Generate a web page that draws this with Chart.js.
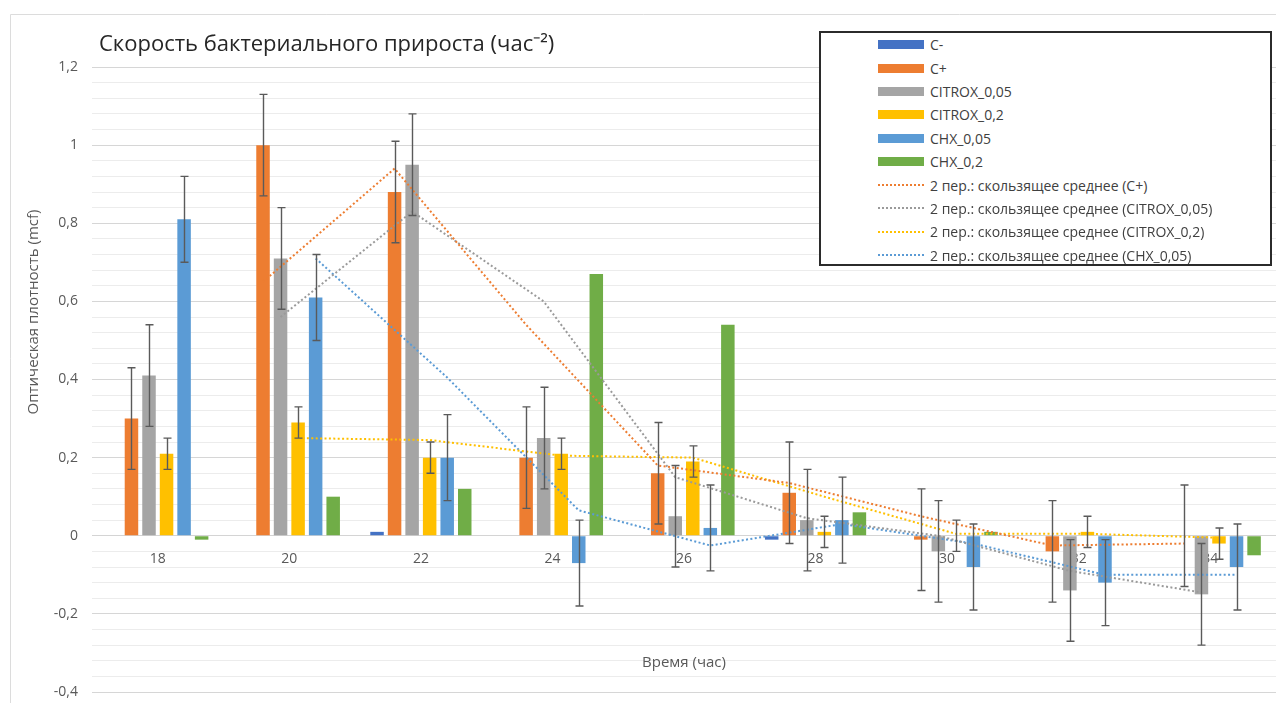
<!DOCTYPE html>
<html lang="ru">
<head>
<meta charset="utf-8">
<title>Скорость бактериального прироста</title>
<script src="https://cdn.jsdelivr.net/npm/chart.js@4.4.1/dist/chart.umd.min.js"></script>
<style>
  html, body { margin: 0; padding: 0; background: #fff; }
  #wrap { position: relative; width: 1276px; height: 703px; overflow: hidden; }
  #chart { position: absolute; left: 0; top: 0; }
  #legend {
    position: absolute; left: 819px; top: 31px; width: 449px; height: 231px;
    border: 2px solid #2b2b2b; background: #fff;
    font-family: 'Open Sans', sans-serif; font-size: 14px; color: #404040;
  }
  #legend .row { position: absolute; left: 57px; height: 23.4px; display: flex; align-items: center; white-space: nowrap; }
  #legend .sw { width: 46px; margin-right: 6px; }
  #legend .sw.bar { height: 9px; }
  #legend .sw.dot { height: 0; border-top-width: 2px; border-top-style: dotted; }
</style>
</head>
<body>
<div id="wrap">
  <canvas id="chart" width="1276" height="703"></canvas>
  <div id="legend"></div>
</div>
<script>
// Measurement times (hours)
const categories = ['18', '20', '22', '24', '26', '28', '30', '32', '34'];

// Growth rate per group
const cMinus    = [0, 0, 0.01, 0, 0, -0.01, 0, 0, 0];
const cPlus     = [0.30, 1.00, 0.88, 0.20, 0.16, 0.11, -0.01, -0.04, 0.00];
const citrox005 = [0.41, 0.71, 0.95, 0.25, 0.05, 0.04, -0.04, -0.14, -0.15];
const citrox02  = [0.21, 0.29, 0.20, 0.21, 0.19, 0.01, 0.00, 0.01, -0.02];
const chx005    = [0.81, 0.61, 0.20, -0.07, 0.02, 0.04, -0.08, -0.12, -0.08];
const chx02     = [-0.01, 0.10, 0.12, 0.67, 0.54, 0.06, 0.01, 0.00, -0.05];

// Error bar half-widths
const errCPlus     = [0.13, 0.13, 0.13, 0.13, 0.13, 0.13, 0.13, 0.13, 0.13];
const errCitrox005 = [0.13, 0.13, 0.13, 0.13, 0.13, 0.13, 0.13, 0.13, 0.13];
const errCitrox02  = [0.04, 0.04, 0.04, 0.04, 0.04, 0.04, 0.04, 0.04, 0.04];
const errChx005    = [0.11, 0.11, 0.11, 0.11, 0.11, 0.11, 0.11, 0.11, 0.11];

// 2-period moving averages
const maCPlus     = [null, 0.65, 0.94, 0.54, 0.18, 0.135, 0.05, -0.025, -0.02];
const maCitrox005 = [null, 0.56, 0.83, 0.60, 0.15, 0.045, 0.00, -0.09, -0.145];
const maCitrox02  = [null, 0.25, 0.245, 0.205, 0.20, 0.10, 0.005, 0.005, -0.005];
const maChx005    = [null, 0.71, 0.405, 0.065, -0.025, 0.03, -0.02, -0.10, -0.10];

const yTicksMin = -0.4, yTicksMax = 1.2, yMajorStep = 0.2, yMinorStep = 0.04;

const colors = {
  cMinus: '#4472C4', cPlus: '#ED7D31', citrox005: '#A5A5A5',
  citrox02: '#FFC000', chx005: '#5B9BD5', chx02: '#70AD47'
};

const CATEGORY_PCT = 0.8, BAR_PCT = 0.77, BAR_COUNT = 6;

// Groups sit at integer positions 0..n-1 on a linear x axis
const groupPoints = values => values.map((v, i) => ({ x: i, y: v }));

// x position of a series' bar inside its group, in group units
function barSlot(seriesIndex, i) {
  return i - CATEGORY_PCT / 2 + (seriesIndex + 0.5) * CATEGORY_PCT / BAR_COUNT;
}
function maPoints(values, seriesIndex) {
  return values.map((v, i) => (v === null ? null : { x: barSlot(seriesIndex, i), y: v })).filter(p => p);
}

function barSet(label, values, color, errors) {
  return {
    type: 'bar', label, data: groupPoints(values), backgroundColor: color, borderWidth: 0,
    errors: errors || null, order: 2,
    categoryPercentage: CATEGORY_PCT, barPercentage: BAR_PCT
  };
}
function maSet(label, values, seriesIndex, color) {
  return {
    type: 'line', label, data: maPoints(values, seriesIndex), borderColor: color,
    backgroundColor: color, borderWidth: 2, borderDash: [2, 2.4], pointRadius: 0,
    tension: 0, fill: false, order: 1, isTrend: true
  };
}

const datasets = [
  barSet('C-', cMinus, colors.cMinus),
  barSet('C+', cPlus, colors.cPlus, errCPlus),
  barSet('CITROX_0,05', citrox005, colors.citrox005, errCitrox005),
  barSet('CITROX_0,2', citrox02, colors.citrox02, errCitrox02),
  barSet('CHX_0,05', chx005, colors.chx005, errChx005),
  barSet('CHX_0,2', chx02, colors.chx02),
  maSet('2 пер.: скользящее среднее (C+)', maCPlus, 1, colors.cPlus),
  maSet('2 пер.: скользящее среднее (CITROX_0,05)', maCitrox005, 2, '#9a9a9a'),
  maSet('2 пер.: скользящее среднее (CITROX_0,2)', maCitrox02, 3, colors.citrox02),
  maSet('2 пер.: скользящее среднее (CHX_0,05)', maChx005, 4, colors.chx005)
];

const isMajor = v => Math.abs(v / yMajorStep - Math.round(v / yMajorStep)) < 1e-6;

// Background and outer frame
const framePlugin = {
  id: 'frame',
  beforeDraw(chart) {
    const { ctx, width, height } = chart;
    ctx.save();
    ctx.fillStyle = '#ffffff';
    ctx.fillRect(0, 0, width, height);
    ctx.strokeStyle = '#dcdcdc';
    ctx.lineWidth = 1;
    ctx.beginPath();
    ctx.moveTo(10.5, height);
    ctx.lineTo(10.5, 14.5);
    ctx.lineTo(width, 14.5);
    ctx.stroke();
    ctx.restore();
  }
};

// Vertical error bars with caps
const errorBarPlugin = {
  id: 'errorBars',
  afterDatasetsDraw(chart) {
    const { ctx } = chart;
    const y = chart.scales.y;
    ctx.save();
    ctx.strokeStyle = '#5a5a5a';
    ctx.lineWidth = 1.4;
    chart.data.datasets.forEach((ds, di) => {
      if (!ds.errors) return;
      const meta = chart.getDatasetMeta(di);
      meta.data.forEach((bar, i) => {
        const v = ds.data[i].y, e = ds.errors[i];
        if (v === null || !e) return;
        const yt = y.getPixelForValue(v + e), yb = y.getPixelForValue(v - e);
        const x = Math.round(bar.x) + 0.5, cap = 4;
        ctx.beginPath();
        ctx.moveTo(x, yt); ctx.lineTo(x, yb);
        ctx.moveTo(x - cap, yt); ctx.lineTo(x + cap, yt);
        ctx.moveTo(x - cap, yb); ctx.lineTo(x + cap, yb);
        ctx.stroke();
      });
    });
    ctx.restore();
  }
};

// Chart and axis titles
const titlesPlugin = {
  id: 'titles',
  afterDraw(chart) {
    const { ctx, chartArea } = chart;
    ctx.save();
    ctx.fillStyle = '#262626';
    ctx.font = '22px "Open Sans", sans-serif';
    ctx.textAlign = 'left';
    ctx.textBaseline = 'alphabetic';
    ctx.fillText('Скорость бактериального прироста (час⁻²)', chartArea.left + 7, 51);

    ctx.fillStyle = '#595959';
    ctx.font = '15px "Open Sans", sans-serif';
    ctx.textAlign = 'center';
    ctx.textBaseline = 'middle';
    ctx.fillText('Время (час)', (chartArea.left + chartArea.right) / 2, 663);

    ctx.translate(34, 312);
    ctx.rotate(-Math.PI / 2);
    ctx.fillText('Оптическая плотность (mcf)', 0, 0);
    ctx.restore();
  }
};

const zeroPadding = scale => {
  scale.paddingTop = 0; scale.paddingBottom = 0;
  scale.paddingLeft = 0; scale.paddingRight = 0;
};

const chart = new Chart(document.getElementById('chart'), {
  type: 'bar',
  data: { datasets },
  options: {
    responsive: false,
    animation: false,
    events: [],
    layout: { padding: { top: 67, right: 0, bottom: 11, left: 0 } },
    plugins: { legend: { display: false }, tooltip: { enabled: false }, title: { display: false } },
    scales: {
      x: {
        type: 'linear',
        offset: false,
        min: -0.5, max: categories.length - 0.5,
        position: { y: 0 },
        afterBuildTicks(scale) { scale.ticks = categories.map((c, i) => ({ value: i })); },
        afterFit(scale) { scale.height = 0; zeroPadding(scale); },
        grid: { display: false, drawTicks: false },
        border: { display: true, color: '#d4d4d4', width: 1 },
        ticks: {
          autoSkip: false, maxRotation: 0, padding: 15,
          color: '#595959', font: { size: 14, family: "'Open Sans', sans-serif" },
          callback: v => (categories[Math.round(v)] !== undefined ? categories[Math.round(v)] : '')
        }
      },
      y: {
        type: 'linear',
        min: yTicksMin, max: yTicksMax,
        afterFit(scale) { scale.width = 92; zeroPadding(scale); },
        border: { display: false },
        grid: {
          drawTicks: false,
          color: ctx => (isMajor(ctx.tick.value) ? '#d6d6d6' : '#ececec'),
          lineWidth: 1
        },
        ticks: {
          stepSize: yMinorStep,
          autoSkip: false,
          padding: 14,
          color: '#595959',
          font: { size: 14, family: "'Open Sans', sans-serif" },
          callback: v => (isMajor(v) ? String(Math.round(v * 10) / 10).replace('.', ',') : '')
        }
      }
    }
  },
  plugins: [framePlugin, errorBarPlugin, titlesPlugin]
});

// Legend built from the chart's datasets
const legend = document.getElementById('legend');
chart.data.datasets.forEach((ds, i) => {
  const row = document.createElement('div');
  row.className = 'row';
  row.style.top = (i * 23.4) + 'px';
  const sw = document.createElement('span');
  if (ds.isTrend) {
    sw.className = 'sw dot';
    sw.style.borderTopColor = ds.borderColor;
  } else {
    sw.className = 'sw bar';
    sw.style.background = ds.backgroundColor;
  }
  const txt = document.createElement('span');
  txt.textContent = ds.label;
  row.appendChild(sw);
  row.appendChild(txt);
  legend.appendChild(row);
});
</script>
</body>
</html>
